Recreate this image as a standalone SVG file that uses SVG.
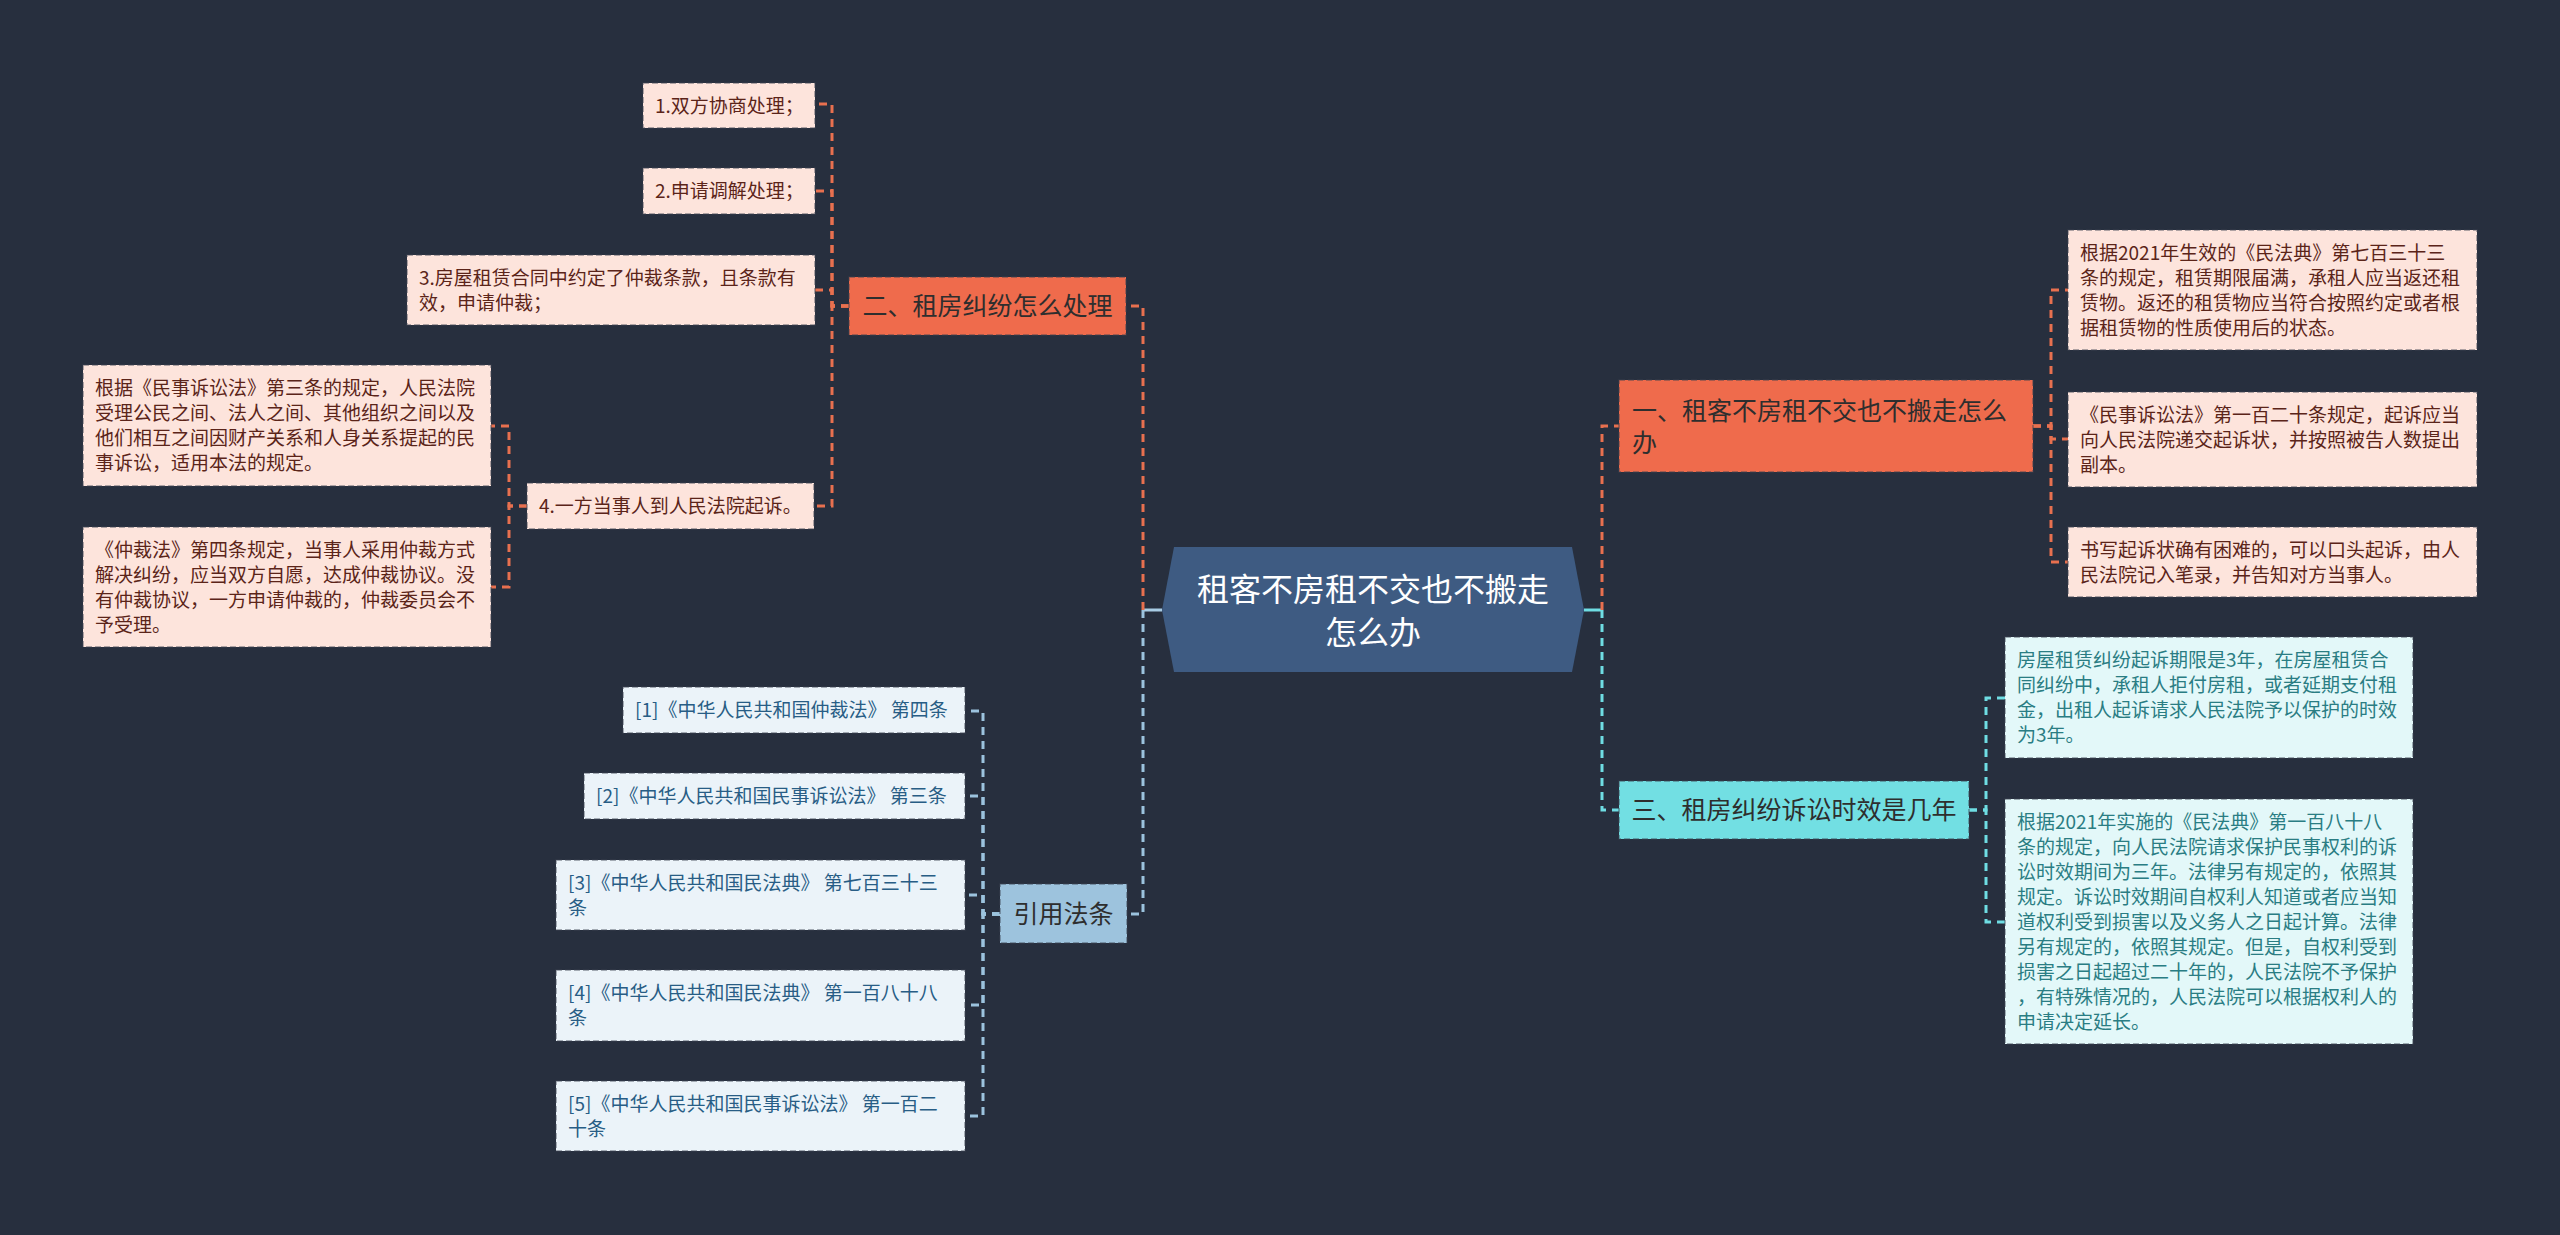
<svg xmlns="http://www.w3.org/2000/svg" width="2560" height="1235" viewBox="0 0 2560 1235">
<style>
text{font-family:"Noto Sans CJK SC","Noto Sans",sans-serif;}
.box{stroke:#3c4150;stroke-opacity:.55;stroke-width:1.5;stroke-dasharray:6 3;}
.pc{fill:#fde4dc;}
.cc{fill:#e3f8f9;}
.bc{fill:#ebf3f9;}
.t{font-size:19px;}
.tp{fill:#5b2419;}
.tc{fill:#2a7d83;}
.tb{fill:#285d85;}
.br{font-size:25px;fill:#2e2e2e;}
.dash{fill:none;stroke-width:3;stroke-dasharray:8 6;}
.coral{stroke:#e8704f;}
.cyan{stroke:#6fdde3;}
.blue{stroke:#9cc3de;}
</style>
<rect width="2560" height="1235" fill="#272f3e"/>

<g id="connectors">
  <path d="M1162 610 H1143" stroke="#a8cce4" stroke-width="3" fill="none"/>
  <path d="M1584 610 H1602" stroke="#6fdde3" stroke-width="3" fill="none"/>
  <path class="dash coral" d="M1143 610 V306 H1126"/>
  <path class="dash blue" d="M1143 610 V914 H1127"/>
  <path class="dash coral" d="M1602 610 V426 H1619"/>
  <path class="dash cyan" d="M1602 610 V810 H1619"/>
  <path class="dash coral" d="M849 306 H832 V104 H815"/>
  <path class="dash coral" d="M849 306 H832 V191 H815"/>
  <path class="dash coral" d="M849 306 H832 V290 H815"/>
  <path class="dash coral" d="M849 306 H832 V506 H814"/>
  <path class="dash coral" d="M527 506 H509 V426 H491"/>
  <path class="dash coral" d="M527 506 H509 V587 H491"/>
  <path class="dash blue" d="M1000 914 H983 V711 H965"/>
  <path class="dash blue" d="M1000 914 H983 V796 H965"/>
  <path class="dash blue" d="M1000 914 H983 V895 H965"/>
  <path class="dash blue" d="M1000 914 H983 V1005 H965"/>
  <path class="dash blue" d="M1000 914 H983 V1116 H965"/>
  <path class="dash coral" d="M2033 426 H2051 V290 H2068"/>
  <path class="dash coral" d="M2033 426 H2051 V439 H2068"/>
  <path class="dash coral" d="M2033 426 H2051 V562 H2068"/>
  <path class="dash cyan" d="M1969 810 H1986 V698 H2005"/>
  <path class="dash cyan" d="M1969 810 H1986 V922 H2005"/>
</g>

<g id="root">
  <polygon points="1174,547 1572,547 1584,610 1572,672 1174,672 1162,610" fill="#3e5b82"/>
  <text x="1373" y="601" font-size="32" fill="#ffffff" text-anchor="middle">租客不房租不交也不搬走</text>
  <text x="1373" y="644" font-size="32" fill="#ffffff" text-anchor="middle">怎么办</text>
</g>

<g id="branch2">
  <rect class="box" x="849" y="277" width="277" height="58" fill="#ef6b4c"/>
  <text class="br" x="987.5" y="315" text-anchor="middle">二、租房纠纷怎么处理</text>
</g>
<g id="b2c1">
  <rect class="box pc" x="643" y="83" width="172" height="45"/>
  <text class="t tp" x="655" y="112.5">1.双方协商处理；</text>
</g>
<g id="b2c2">
  <rect class="box pc" x="643" y="168" width="172" height="46"/>
  <text class="t tp" x="655" y="198">2.申请调解处理；</text>
</g>
<g id="b2c3">
  <rect class="box pc" x="407" y="255" width="408" height="70"/>
  <text class="t tp" x="419" y="284.5">3.房屋租赁合同中约定了仲裁条款，且条款有</text>
  <text class="t tp" x="419" y="309.5">效，申请仲裁；</text>
</g>
<g id="b2c4">
  <rect class="box pc" x="527" y="483" width="287" height="46"/>
  <text class="t tp" x="539" y="513">4.一方当事人到人民法院起诉。</text>
</g>
<g id="b2c4a">
  <rect class="box pc" x="83" y="365" width="408" height="121"/>
  <text class="t tp" x="95" y="395">根据《民事诉讼法》第三条的规定，人民法院</text>
  <text class="t tp" x="95" y="420">受理公民之间、法人之间、其他组织之间以及</text>
  <text class="t tp" x="95" y="445">他们相互之间因财产关系和人身关系提起的民</text>
  <text class="t tp" x="95" y="470">事诉讼，适用本法的规定。</text>
</g>
<g id="b2c4b">
  <rect class="box pc" x="83" y="527" width="408" height="120"/>
  <text class="t tp" x="95" y="556.5">《仲裁法》第四条规定，当事人采用仲裁方式</text>
  <text class="t tp" x="95" y="581.5">解决纠纷，应当双方自愿，达成仲裁协议。没</text>
  <text class="t tp" x="95" y="606.5">有仲裁协议，一方申请仲裁的，仲裁委员会不</text>
  <text class="t tp" x="95" y="631.5">予受理。</text>
</g>

<g id="branch-cite">
  <rect class="box" x="1000" y="884" width="127" height="59" fill="#9dc3dd"/>
  <text class="br" x="1063.5" y="923" text-anchor="middle">引用法条</text>
</g>
<g id="cite1">
  <rect class="box bc" x="623" y="687" width="342" height="46"/>
  <text class="t tb" x="635" y="717">[1]《中华人民共和国仲裁法》 第四条</text>
</g>
<g id="cite2">
  <rect class="box bc" x="584" y="773" width="381" height="46"/>
  <text class="t tb" x="596" y="803">[2]《中华人民共和国民事诉讼法》 第三条</text>
</g>
<g id="cite3">
  <rect class="box bc" x="556" y="860" width="409" height="70"/>
  <text class="t tb" x="568" y="889.5">[3]《中华人民共和国民法典》 第七百三十三</text>
  <text class="t tb" x="568" y="914.5">条</text>
</g>
<g id="cite4">
  <rect class="box bc" x="556" y="970" width="409" height="71"/>
  <text class="t tb" x="568" y="1000">[4]《中华人民共和国民法典》 第一百八十八</text>
  <text class="t tb" x="568" y="1025">条</text>
</g>
<g id="cite5">
  <rect class="box bc" x="556" y="1081" width="409" height="70"/>
  <text class="t tb" x="568" y="1110.5">[5]《中华人民共和国民事诉讼法》 第一百二</text>
  <text class="t tb" x="568" y="1135.5">十条</text>
</g>

<g id="branch1">
  <rect class="box" x="1619" y="380" width="414" height="92" fill="#ef6b4c"/>
  <text class="br" x="1632" y="420">一、租客不房租不交也不搬走怎么</text>
  <text class="br" x="1632" y="452">办</text>
</g>
<g id="b1c1">
  <rect class="box pc" x="2068" y="230" width="409" height="120"/>
  <text class="t tp" x="2080" y="259.5">根据2021年生效的《民法典》第七百三十三</text>
  <text class="t tp" x="2080" y="284.5">条的规定，租赁期限届满，承租人应当返还租</text>
  <text class="t tp" x="2080" y="309.5">赁物。返还的租赁物应当符合按照约定或者根</text>
  <text class="t tp" x="2080" y="334.5">据租赁物的性质使用后的状态。</text>
</g>
<g id="b1c2">
  <rect class="box pc" x="2068" y="392" width="409" height="95"/>
  <text class="t tp" x="2080" y="421.5">《民事诉讼法》第一百二十条规定，起诉应当</text>
  <text class="t tp" x="2080" y="446.5">向人民法院递交起诉状，并按照被告人数提出</text>
  <text class="t tp" x="2080" y="471.5">副本。</text>
</g>
<g id="b1c3">
  <rect class="box pc" x="2068" y="527" width="409" height="70"/>
  <text class="t tp" x="2080" y="556.5">书写起诉状确有困难的，可以口头起诉，由人</text>
  <text class="t tp" x="2080" y="581.5">民法院记入笔录，并告知对方当事人。</text>
</g>

<g id="branch3">
  <rect class="box" x="1619" y="781" width="350" height="58" fill="#72dfe3"/>
  <text class="br" x="1794" y="819" text-anchor="middle">三、租房纠纷诉讼时效是几年</text>
</g>
<g id="b3c1">
  <rect class="box cc" x="2005" y="637" width="408" height="121"/>
  <text class="t tc" x="2017" y="667">房屋租赁纠纷起诉期限是3年，在房屋租赁合</text>
  <text class="t tc" x="2017" y="692">同纠纷中，承租人拒付房租，或者延期支付租</text>
  <text class="t tc" x="2017" y="717">金，出租人起诉请求人民法院予以保护的时效</text>
  <text class="t tc" x="2017" y="742">为3年。</text>
</g>
<g id="b3c2">
  <rect class="box cc" x="2005" y="799" width="408" height="245"/>
  <text class="t tc" x="2017" y="828.5">根据2021年实施的《民法典》第一百八十八</text>
  <text class="t tc" x="2017" y="853.5">条的规定，向人民法院请求保护民事权利的诉</text>
  <text class="t tc" x="2017" y="878.5">讼时效期间为三年。法律另有规定的，依照其</text>
  <text class="t tc" x="2017" y="903.5">规定。诉讼时效期间自权利人知道或者应当知</text>
  <text class="t tc" x="2017" y="928.5">道权利受到损害以及义务人之日起计算。法律</text>
  <text class="t tc" x="2017" y="953.5">另有规定的，依照其规定。但是，自权利受到</text>
  <text class="t tc" x="2017" y="978.5">损害之日起超过二十年的，人民法院不予保护</text>
  <text class="t tc" x="2017" y="1003.5">，有特殊情况的，人民法院可以根据权利人的</text>
  <text class="t tc" x="2017" y="1028.5">申请决定延长。</text>
</g>
</svg>
